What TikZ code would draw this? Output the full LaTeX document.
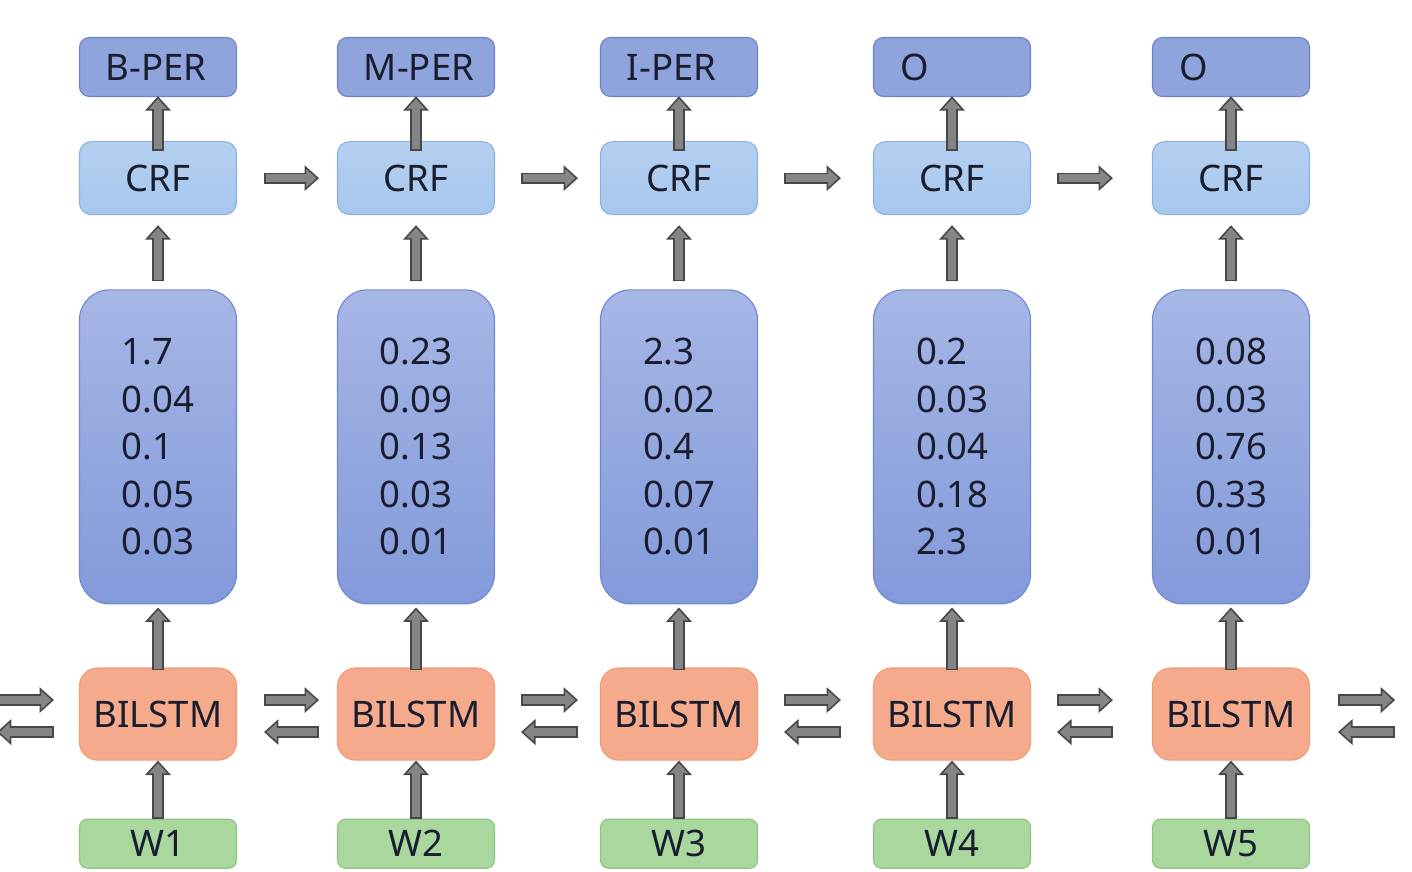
\documentclass[tikz,border=0pt]{standalone}
\usepackage{fontspec}
\setmainfont{Noto Sans}
\usetikzlibrary{positioning}
\usetikzlibrary{arrows.meta}
\definecolor{labfill}{HTML}{8FA3DC}
\definecolor{labdraw}{HTML}{6C84C6}
\definecolor{crffill}{HTML}{A7C7EE}
\definecolor{crfdraw}{HTML}{8DB1E3}
\definecolor{sctop}{HTML}{A6B7E6}
\definecolor{scbot}{HTML}{8399DA}
\definecolor{scdraw}{HTML}{7088CF}
\definecolor{lstmfill}{HTML}{F6AA8C}
\definecolor{lstmdraw}{HTML}{EE9C78}
\definecolor{wfill}{HTML}{A9D79E}
\definecolor{wdraw}{HTML}{8FC482}
\definecolor{inkc}{HTML}{1A1D2E}
\tikzset{
    box/.style = {rectangle, draw, line width=0.8pt, minimum width=3.925cm, text=inkc},
    labbox/.style = {box, rounded corners=0.25cm, minimum height=1.475cm, fill=labfill, draw=labdraw, text width=2.6cm, inner xsep=0pt, align=left},
    crfbox/.style = {box, rounded corners=0.3cm, minimum height=1.825cm, top color=crffill!85!white, bottom color=crffill, draw=crfdraw},
    scbox/.style = {box, rounded corners=0.75cm, minimum height=7.85cm, top color=sctop, bottom color=scbot, draw=scdraw, text width=1.8cm, inner xsep=0pt, align=left},
    lstmbox/.style = {box, rounded corners=0.45cm, minimum height=2.3cm, fill=lstmfill, draw=lstmdraw},
    wbox/.style = {box, rounded corners=0.2cm, minimum height=1.225cm, fill=wfill, draw=wdraw},
    blockarr/.style 2 args = {draw=black!72, line width=8pt, shorten <=#1, shorten >=#2,
        -{Triangle[length=0.36cm, width=0.64cm, line width=1.1pt, fill=black!48]},
        postaction={draw=black!48, line width=5.6pt, -, shorten <=#1+1.2pt, shorten >=#2+0.36cm-3pt}},
    uparr/.style = {blockarr={0pt}{0pt}},
}

\begin{document}
\begin{tikzpicture}[x=0.025cm, y=-0.025cm, font=\fontsize{26}{33.8}\selectfont]
  \useasboundingbox (0,0) rectangle (1412,871);

  % column 1
  \node[labbox] (lab1) at (158,67) {\mbox{B-PER}};
  \node[crfbox, below=1.1cm of lab1] (crf1) {CRF};
  \node[scbox, below=1.85cm of crf1] (sc1) {1.7\\0.04\\0.1\\0.05\\0.03};
  \node[lstmbox, below=1.575cm of sc1] (lstm1) {BILSTM};
  \node[wbox, below=1.45cm of lstm1] (w1) {W1};

  % column 2
  \node[labbox] (lab2) at (416,67) {\mbox{M-PER}};
  \node[crfbox, below=1.1cm of lab2] (crf2) {CRF};
  \node[scbox, below=1.85cm of crf2] (sc2) {0.23\\0.09\\0.13\\0.03\\0.01};
  \node[lstmbox, below=1.575cm of sc2] (lstm2) {BILSTM};
  \node[wbox, below=1.45cm of lstm2] (w2) {W2};

  % column 3
  \node[labbox] (lab3) at (679,67) {\mbox{I-PER}};
  \node[crfbox, below=1.1cm of lab3] (crf3) {CRF};
  \node[scbox, below=1.85cm of crf3] (sc3) {2.3\\0.02\\0.4\\0.07\\0.01};
  \node[lstmbox, below=1.575cm of sc3] (lstm3) {BILSTM};
  \node[wbox, below=1.45cm of lstm3] (w3) {W3};

  % column 4
  \node[labbox] (lab4) at (952,67) {O};
  \node[crfbox, below=1.1cm of lab4] (crf4) {CRF};
  \node[scbox, below=1.85cm of crf4] (sc4) {0.2\\0.03\\0.04\\0.18\\2.3};
  \node[lstmbox, below=1.575cm of sc4] (lstm4) {BILSTM};
  \node[wbox, below=1.45cm of lstm4] (w4) {W4};

  % column 5
  \node[labbox] (lab5) at (1231,67) {O};
  \node[crfbox, below=1.1cm of lab5] (crf5) {CRF};
  \node[scbox, below=1.85cm of crf5] (sc5) {0.08\\0.03\\0.76\\0.33\\0.01};
  \node[lstmbox, below=1.575cm of sc5] (lstm5) {BILSTM};
  \node[wbox, below=1.45cm of lstm5] (w5) {W5};

  \coordinate (lft) at ([xshift=-2.05cm]lstm1.west);
  \coordinate (rgt) at ([xshift=2.125cm]lstm5.east);

  % upward arrows
  \draw[uparr] (w1.north) -- (lstm1.south);
  \draw[uparr] (w2.north) -- (lstm2.south);
  \draw[uparr] (w3.north) -- (lstm3.south);
  \draw[uparr] (w4.north) -- (lstm4.south);
  \draw[uparr] (w5.north) -- (lstm5.south);
  \draw[blockarr={-0.075cm}{0.075cm}] (lstm1.north) -- (sc1.south);
  \draw[blockarr={-0.075cm}{0.075cm}] (lstm2.north) -- (sc2.south);
  \draw[blockarr={-0.075cm}{0.075cm}] (lstm3.north) -- (sc3.south);
  \draw[blockarr={-0.075cm}{0.075cm}] (lstm4.north) -- (sc4.south);
  \draw[blockarr={-0.075cm}{0.075cm}] (lstm5.north) -- (sc5.south);
  \draw[blockarr={0.2cm}{0.25cm}] (sc1.north) -- (crf1.south);
  \draw[blockarr={0.2cm}{0.25cm}] (sc2.north) -- (crf2.south);
  \draw[blockarr={0.2cm}{0.25cm}] (sc3.north) -- (crf3.south);
  \draw[blockarr={0.2cm}{0.25cm}] (sc4.north) -- (crf4.south);
  \draw[blockarr={0.2cm}{0.25cm}] (sc5.north) -- (crf5.south);
  \draw[blockarr={-0.25cm}{-0.02cm}] (crf1.north) -- (lab1.south);
  \draw[blockarr={-0.25cm}{-0.02cm}] (crf2.north) -- (lab2.south);
  \draw[blockarr={-0.25cm}{-0.02cm}] (crf3.north) -- (lab3.south);
  \draw[blockarr={-0.25cm}{-0.02cm}] (crf4.north) -- (lab4.south);
  \draw[blockarr={-0.25cm}{-0.02cm}] (crf5.north) -- (lab5.south);

  % crf chain
  \draw[blockarr={0.675cm}{0.45cm}] (crf1.east) -- (crf2.west);
  \draw[blockarr={0.65cm}{0.55cm}] (crf2.east) -- (crf3.west);
  \draw[blockarr={0.65cm}{0.8cm}] (crf3.east) -- (crf4.west);
  \draw[blockarr={0.65cm}{0.975cm}] (crf4.east) -- (crf5.west);

  % bilstm both ways
  \draw[blockarr={0pt}{0.625cm}] ([yshift=0.35cm]lft) -- ([yshift=0.35cm]lstm1.west);
  \draw[blockarr={0.625cm}{0pt}] ([yshift=-0.45cm]lstm1.west) -- ([yshift=-0.45cm]lft);
  \draw[blockarr={0.675cm}{0.45cm}] ([yshift=0.35cm]lstm1.east) -- ([yshift=0.35cm]lstm2.west);
  \draw[blockarr={0.45cm}{0.675cm}] ([yshift=-0.45cm]lstm2.west) -- ([yshift=-0.45cm]lstm1.east);
  \draw[blockarr={0.65cm}{0.55cm}] ([yshift=0.35cm]lstm2.east) -- ([yshift=0.35cm]lstm3.west);
  \draw[blockarr={0.55cm}{0.65cm}] ([yshift=-0.45cm]lstm3.west) -- ([yshift=-0.45cm]lstm2.east);
  \draw[blockarr={0.65cm}{0.8cm}] ([yshift=0.35cm]lstm3.east) -- ([yshift=0.35cm]lstm4.west);
  \draw[blockarr={0.8cm}{0.65cm}] ([yshift=-0.45cm]lstm4.west) -- ([yshift=-0.45cm]lstm3.east);
  \draw[blockarr={0.65cm}{0.975cm}] ([yshift=0.35cm]lstm4.east) -- ([yshift=0.35cm]lstm5.west);
  \draw[blockarr={0.975cm}{0.65cm}] ([yshift=-0.45cm]lstm5.west) -- ([yshift=-0.45cm]lstm4.east);
  \draw[blockarr={0.7cm}{0pt}] ([yshift=0.35cm]lstm5.east) -- ([yshift=0.35cm]rgt);
  \draw[blockarr={0pt}{0.7cm}] ([yshift=-0.45cm]rgt) -- ([yshift=-0.45cm]lstm5.east);

\end{tikzpicture}
\end{document}
